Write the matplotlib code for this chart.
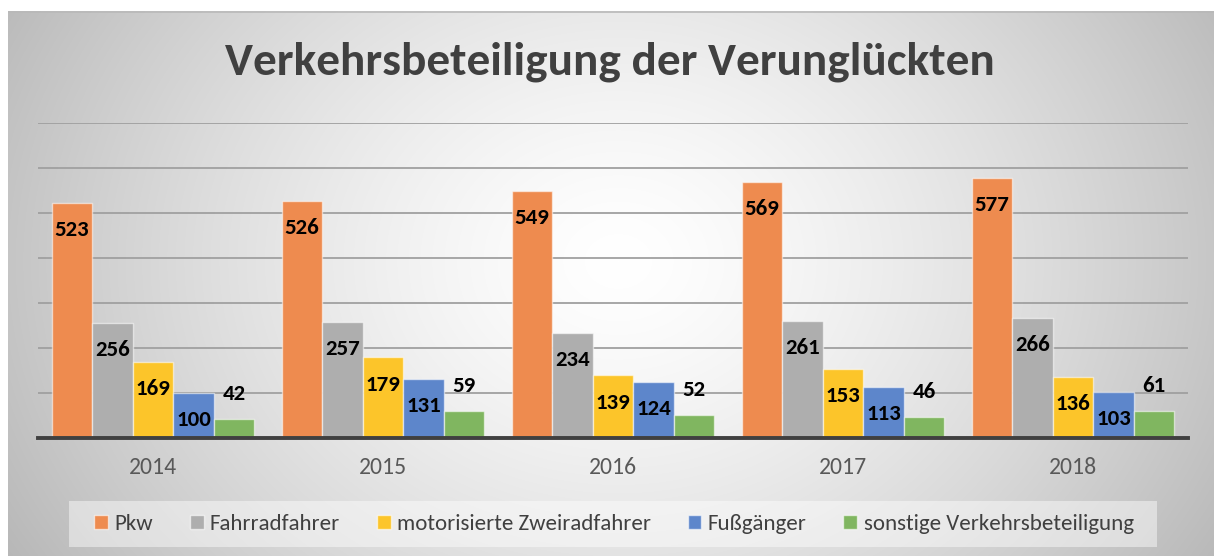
import numpy as np
import matplotlib
matplotlib.use("Agg")
import matplotlib.pyplot as plt
from matplotlib.patches import Rectangle, Patch

# ---- data ----
years = ["2014", "2015", "2016", "2017", "2018"]
series_names = ["Pkw", "Fahrradfahrer", "motorisierte Zweiradfahrer", "Fußgänger",
                "sonstige Verkehrsbeteiligung"]
pkw = [523, 526, 549, 569, 577]
fahrrad = [256, 257, 234, 261, 266]
motorrad = [169, 179, 139, 153, 136]
fussg = [100, 131, 124, 113, 103]
sonstige = [42, 59, 52, 46, 61]
title = "Verkehrsbeteiligung der Verunglückten"

series = [pkw, fahrrad, motorrad, fussg, sonstige]
colors = ["#EE8B4F", "#AEAEAE", "#FCC52A", "#5D86CB", "#80B660"]

FONT = ["Carlito", "Lato", "DejaVu Sans"]
plt.rcParams["font.family"] = FONT

W, H = 1214, 556
fig = plt.figure(figsize=(W / 100, H / 100), dpi=100)
fig.patch.set_facecolor("white")

# ---- background radial gradient ----
bx0, by0 = 8, 11
bg = fig.add_axes([bx0 / W, 0, (W - bx0) / W, (H - by0) / H])
bg.set_axis_off()
yy, xx = np.mgrid[0:H - by0, 0:W - bx0]
cx, cy = 610, 250
d = np.sqrt(((xx - cx) / 640.0) ** 2 + ((yy - cy) / 520.0) ** 2)
val = 255 - 62 * np.clip(d, 0, 1.25) ** 1.4
img = np.dstack([val, val, val]) / 255.0
bg.imshow(img, aspect="auto", extent=[0, 1, 0, 1], zorder=0)
bg.set_xlim(0, 1)
bg.set_ylim(0, 1)
bg.plot([0, 1], [0.998, 0.998], color="#b9b9b9", lw=1.2, transform=bg.transAxes)

# legend box
lb = Rectangle((69 / W, 1 - 547 / H), (1157 - 69) / W, (547 - 501) / H,
               transform=fig.transFigure, facecolor="white", alpha=0.45,
               edgecolor="none", zorder=1)
fig.patches.append(lb)

# ---- main axes ----
ax = fig.add_axes([38 / W, (H - 438) / H, 1150 / W, 315 / H])
ax.patch.set_alpha(0)
ax.set_ylim(0, 700)
n = len(years)
x = np.arange(n)
bw = 0.1765
ax.set_xlim(-0.5, n - 0.5)
for i, (vals, c) in enumerate(zip(series, colors)):
    pos = x + (i - 2) * bw
    ax.bar(pos, vals, width=bw, color=c, edgecolor=(1, 1, 1, 0.55), linewidth=1.0, zorder=3)
    for p, v in zip(pos, vals):
        if i == 4:
            off = 18
        else:
            off = -19.5
        ax.annotate(str(v), (p, v), xytext=(0, off), textcoords="offset points",
                    ha="center", va="center", fontsize=16.5, fontweight="bold",
                    color="black", zorder=5)

ax.set_yticks(range(100, 701, 100))
ax.yaxis.grid(True, color="#a0a0a0", linewidth=1.3, zorder=1)
ax.tick_params(axis="y", left=False, labelleft=False)
ax.set_xticks(x)
ax.set_xticklabels(years, fontsize=17, color="#595959")
ax.tick_params(axis="x", length=0, pad=14)
for s in ["top", "right", "left"]:
    ax.spines[s].set_visible(False)
ax.spines["bottom"].set_color("#404040")
ax.spines["bottom"].set_linewidth(2.8)
ax.spines["bottom"].set_zorder(4)

# ---- title ----
fig.text(0.5025, 1 - 62 / H, title, ha="center", va="center", fontsize=34,
         fontweight="bold", color="#404040")

# ---- legend ----
handles = [Patch(facecolor=c, edgecolor=(1, 1, 1, 0.6), linewidth=1.0) for c in colors]
leg = fig.legend(handles, series_names, loc="center", ncol=5,
                 bbox_to_anchor=(614 / W, 1 - 524 / H), frameon=False,
                 fontsize=16.5, handlelength=0.6, handleheight=0.6,
                 handletextpad=0.28, columnspacing=1.6)
for t in leg.get_texts():
    t.set_color("#404040")

fig.savefig("out.png", dpi=100)
